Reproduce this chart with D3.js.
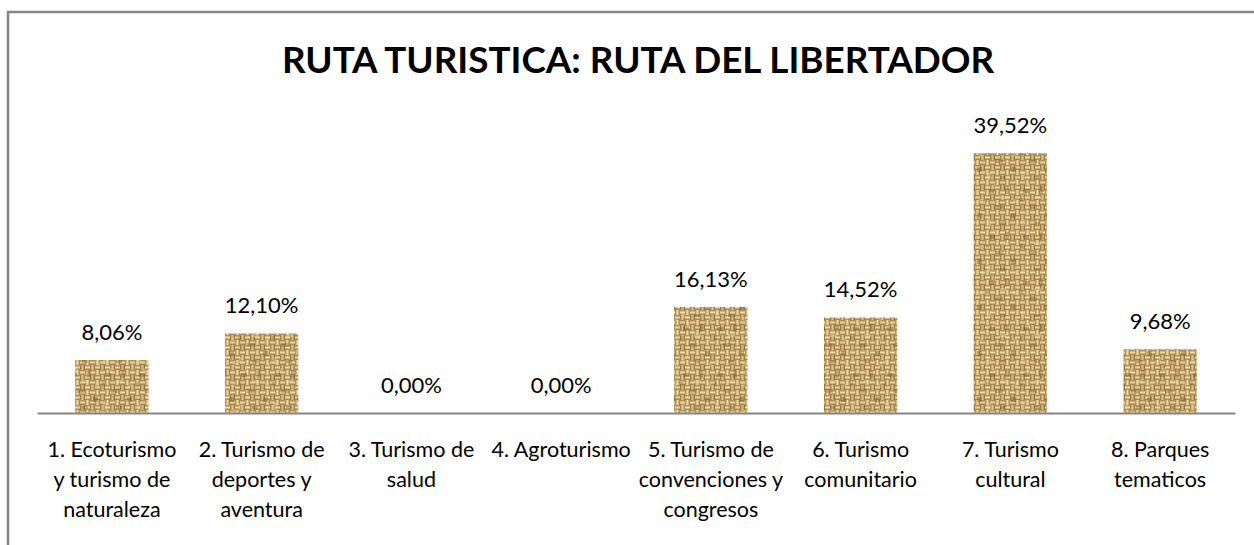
<!DOCTYPE html>
<html>
<head>
<meta charset="utf-8">
<script src="https://cdn.jsdelivr.net/npm/d3@7/dist/d3.min.js"></script>
<style>
  html, body { margin: 0; padding: 0; background: #fff; }
  svg { display: block; }
  text { font-family: Lato, "Open Sans", "DejaVu Sans", sans-serif; fill: #000; }
</style>
</head>
<body>
<svg id="chart" width="1254" height="545"></svg>
<script>
// Chart title
const title = "RUTA TURISTICA: RUTA DEL LIBERTADOR";

// Categories (line breaks mark where each axis label wraps)
const categories = [
  "1. Ecoturismo\ny turismo de\nnaturaleza",
  "2. Turismo de\ndeportes y\naventura",
  "3. Turismo de\nsalud",
  "4. Agroturismo",
  "5. Turismo de\nconvenciones y\ncongresos",
  "6. Turismo\ncomunitario",
  "7. Turismo\ncultural",
  "8. Parques\ntematicos"
];

// Share of each tourism type, in percent
const values = [8.06, 12.10, 0.00, 0.00, 16.13, 14.52, 39.52, 9.68];

const svg = d3.select("#chart");
const W = 1254, H = 545;

// Outer chart frame (extends past the right and bottom edges)
svg.append("rect")
  .attr("x", 8).attr("y", 12)
  .attr("width", W + 20).attr("height", H + 20)
  .attr("fill", "#fff")
  .attr("stroke", "#868686")
  .attr("stroke-width", 2.5);

// Burlap weave texture for the bars: a 4x4 grid of woven cells,
// alternating horizontal and vertical strands, each cell tinted a little differently
const defs = svg.append("defs");
const cell = 5, n = 4, tile = cell * n;
const weave = defs.append("pattern")
  .attr("id", "burlap")
  .attr("patternUnits", "userSpaceOnUse")
  .attr("width", tile).attr("height", tile);
weave.append("rect").attr("width", tile).attr("height", tile).attr("fill", "#b5935a");
const tints = [
  ["#e6d2a0", "#cfb27a", "#a2824b"], ["#dcc58f", "#c6a86f", "#94743f"],
  ["#ecdbab", "#d4b982", "#a88852"], ["#d6bd86", "#bf9f66", "#8a6a37"]
];
const strandSizes = [0.8, 1.0, 1.4, 1.0, 0.8];
for (let r = 0; r < n; r++) {
  for (let c = 0; c < n; c++) {
    const horizontal = (r + c) % 2 === 0;
    const [light, mid, dark] = tints[(r * 3 + c * 2 + (r * c)) % tints.length];
    const cols = [dark, mid, light, mid, dark];
    let off = 0;
    cols.forEach((col, i) => {
      const s = strandSizes[i];
      if (horizontal) {
        weave.append("rect").attr("x", c * cell).attr("y", r * cell + off)
          .attr("width", cell).attr("height", s).attr("fill", col);
      } else {
        weave.append("rect").attr("x", c * cell + off).attr("y", r * cell)
          .attr("width", s).attr("height", cell).attr("fill", col);
      }
      off += s;
    });
  }
}

// Coarser irregular shading layered over the weave
const spots = defs.append("pattern")
  .attr("id", "burlapShade")
  .attr("patternUnits", "userSpaceOnUse")
  .attr("width", 34).attr("height", 46);
[[3, 5, 6, 4, "#5e4118", 0.3], [19, 2, 4, 8, "#5e4118", 0.25], [9, 21, 8, 4, "#6e4f22", 0.28],
 [25, 29, 5, 5, "#5e4118", 0.3], [1, 35, 4, 7, "#f3e4b8", 0.3], [14, 12, 7, 3, "#f3e4b8", 0.35],
 [27, 15, 4, 4, "#f3e4b8", 0.25], [7, 0, 3, 5, "#f3e4b8", 0.25], [14, 38, 6, 3, "#5e4118", 0.25],
 [29, 41, 3, 4, "#f3e4b8", 0.25], [0, 14, 3, 4, "#5e4118", 0.2]]
  .forEach(([x, y, w, h, c, o]) => {
    spots.append("rect").attr("x", x).attr("y", y).attr("width", w).attr("height", h)
      .attr("fill", c).attr("opacity", o);
  });
const soften = defs.append("filter").attr("id", "soft").attr("x", 0).attr("y", 0).attr("width", 1).attr("height", 1);
soften.append("feGaussianBlur").attr("stdDeviation", 0.55);

// Scales
const x = d3.scaleBand().domain(categories).range([37, 1235]).padding(0);
const y = d3.scaleLinear().domain([0, 45]).range([413, 117]);
const barW = x.bandwidth() * 0.49;

// Title
svg.append("text")
  .attr("x", 638).attr("y", 73)
  .attr("text-anchor", "middle")
  .style("font-size", "36.8px")
  .style("font-weight", "bold")
  .text(title);

// Bars
const data = categories.map((c, i) => ({ c, v: values[i] }));
const bars = svg.append("g");
bars.selectAll("g.bar").data(data).join("g")
  .attr("class", "bar")
  .attr("filter", "url(#soft)")
  .each(function (d) {
    const g = d3.select(this);
    ["url(#burlap)", "url(#burlapShade)"].forEach(fill => {
      g.append("rect")
        .attr("x", x(d.c) + (x.bandwidth() - barW) / 2)
        .attr("width", barW)
        .attr("y", y(d.v))
        .attr("height", y(0) - y(d.v))
        .attr("fill", fill);
    });
  });

// Value labels
const fmt = v => v.toFixed(2).replace(".", ",") + "%";
svg.selectAll("text.val").data(data).join("text")
  .attr("class", "val")
  .attr("x", d => x(d.c) + x.bandwidth() / 2)
  .attr("y", d => y(d.v) - 20)
  .attr("text-anchor", "middle")
  .style("font-size", "22px")
  .text(d => fmt(d.v));

// Category axis
const axis = svg.append("g")
  .attr("transform", `translate(0,${y(0)})`)
  .call(d3.axisBottom(x).tickSize(0).tickFormat(""));
axis.select(".domain").attr("stroke", "#868686").attr("stroke-width", 2);

axis.selectAll(".tick").each(function (d) {
  const t = d3.select(this).append("text")
    .attr("text-anchor", "middle")
    .attr("y", 44)
    .style("font-size", "21.5px")
    .attr("fill", "#000");
  d.split("\n").forEach((line, i) => {
    t.append("tspan").attr("x", 0).attr("dy", i === 0 ? 0 : 30).text(line);
  });
});
</script>
</body>
</html>
